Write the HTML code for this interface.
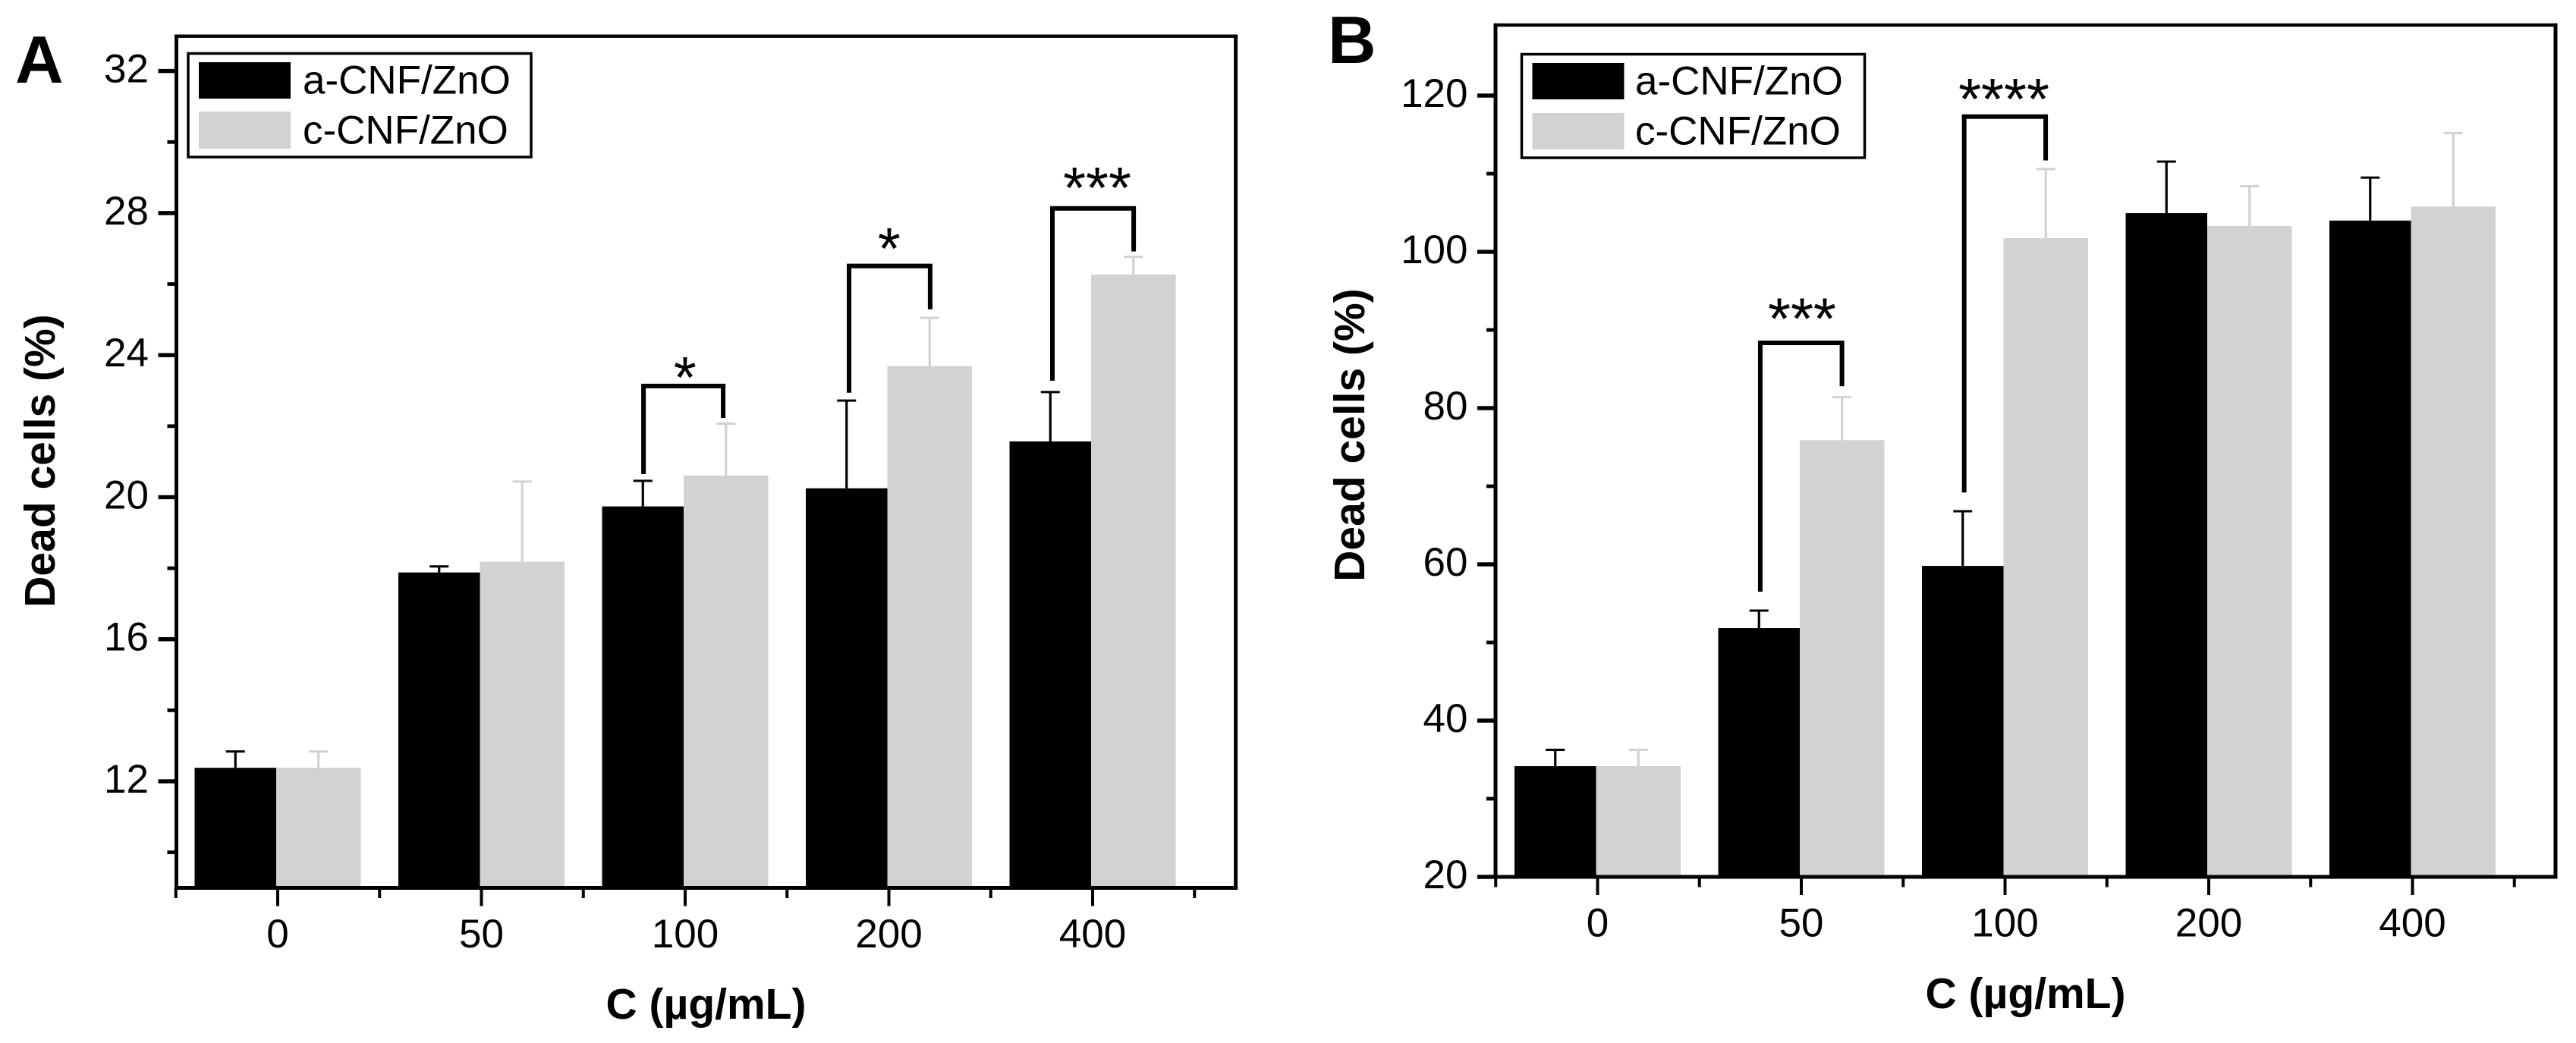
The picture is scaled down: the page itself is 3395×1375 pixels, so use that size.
<!DOCTYPE html>
<html lang="en">
<head>
<meta charset="utf-8">
<title>Dead cells vs concentration</title>
<style>
html,body{margin:0;padding:0;background:#fff;width:3395px;height:1375px;overflow:hidden}
svg{display:block}
text{font-family:"Liberation Sans",Arial,sans-serif;fill:#000}
.tick{font-size:53px}
.title{font-size:57px;font-weight:bold}
.panel{font-size:88px;font-weight:bold}
.legend{font-size:53px}
.star{font-size:77px;text-anchor:middle}
</style>
</head>
<body>
<svg id="figure" xmlns="http://www.w3.org/2000/svg" width="3395" height="1375" viewBox="0 0 3395 1375">
  <rect width="3395" height="1375" fill="#fff"/>
  <g id="panel-a"></g>
  <g id="panel-b"></g>

  <text class="panel" x="20" y="109">A</text>
  <text class="panel" x="1750" y="83">B</text>

  <text class="title" text-anchor="middle" transform="translate(72 607.5) rotate(-90)">Dead cells (%)</text>
  <text class="title" text-anchor="middle" x="930.5" y="1343">C (µg/mL)</text>
  <text class="title" text-anchor="middle" transform="translate(1798 573.5) rotate(-90)">Dead cells (%)</text>
  <text class="title" text-anchor="middle" x="2669.5" y="1329">C (µg/mL)</text>

  <g>
    <rect x="248" y="70.5" width="452" height="136.5" fill="#fff" stroke="#000" stroke-width="3.5"/>
    <rect x="262" y="82" width="121" height="48" fill="#000"/>
    <text class="legend" x="399" y="123.5">a-CNF/ZnO</text>
    <rect x="262" y="147" width="121" height="49" fill="#d2d2d2"/>
    <text class="legend" x="399" y="189.5">c-CNF/ZnO</text>
  </g>
  <g>
    <rect x="2005.5" y="71.5" width="452" height="136.5" fill="#fff" stroke="#000" stroke-width="3.5"/>
    <rect x="2019.5" y="83" width="121" height="48" fill="#000"/>
    <text class="legend" x="2155" y="124.5">a-CNF/ZnO</text>
    <rect x="2019.5" y="149" width="121" height="48" fill="#d2d2d2"/>
    <text class="legend" x="2155" y="190.5">c-CNF/ZnO</text>
  </g>
</svg>

<script>
// Shared category labels
const categories = ['0', '50', '100', '200', '400'];

// Panel A data (% dead cells)
const aBlack = [12.38, 17.88, 19.74, 20.25, 21.57];
const aBlackErr = [0.46, 0.17, 0.72, 2.47, 1.39];
const aGray = [12.38, 18.18, 20.61, 23.69, 26.27];
const aGrayErr = [0.46, 2.26, 1.46, 1.36, 0.50];
const aMajorTicks = [12, 16, 20, 24, 28, 32];
const aMinorTicks = [10, 14, 18, 22, 26, 30];
const aBracketLeft = [1.803, 2.812, 3.810];
const aBracketRight = [2.194, 3.210, 4.209];
const aBracketTop = [23.13, 26.51, 28.13];
const aBracketLeftEnd = [20.65, 22.94, 23.28];
const aBracketRightEnd = [22.23, 25.29, 26.92];
const aStarLabels = ['*', '*', '***'];
const aStarAt = [2.007, 3.009, 4.03];
const aStarLevel = [23.38, 27.02, 28.72];

// Panel B data (% dead cells)
const bBlack = [34.17, 51.84, 59.8, 104.95, 104.0];
const bBlackErr = [2.09, 2.24, 7.0, 6.6, 5.5];
const bGray = [34.17, 75.9, 101.75, 103.3, 105.8];
const bGrayErr = [2.09, 5.5, 8.85, 5.1, 9.4];
const bMajorTicks = [20, 40, 60, 80, 100, 120];
const bMinorTicks = [30, 50, 70, 90, 110];
const bBracketLeft = [0.806, 1.807];
const bBracketRight = [1.207, 2.207];
const bBracketTop = [88.35, 117.3];
const bBracketLeftEnd = [56.5, 69.2];
const bBracketRightEnd = [82.8, 111.7];
const bStarLabels = ['***', '****'];
const bStarAt = [1.011, 2.002];
const bStarLevel = [91.5, 119.6];

const SVG_NS = 'http://www.w3.org/2000/svg';
const GRAY = '#d2d2d2';

function make(parent, tag, props) {
  const node = document.createElementNS(SVG_NS, tag);
  for (const key in props) {
    node.setAttribute(key, props[key]);
  }
  parent.appendChild(node);
  return node;
}

function drawPanel(cfg) {
  const root = document.getElementById(cfg.rootId);
  const yScale = function (v) { return cfg.y0 - (v - cfg.v0) * cfg.pxPerUnit; };
  const xScale = function (p) { return cfg.x0 + p * 268.5; };
  const tickX = function (p) { return xScale(p) + 2; };

  // Bars and error bars: black series first so grey overlaps it
  const seriesList = [
    { key: 'a-cnf-zno', values: cfg.black, errs: cfg.blackErr, color: '#000', from: -107.5, to: 0 },
    { key: 'c-cnf-zno', values: cfg.gray, errs: cfg.grayErr, color: GRAY, from: 0, to: 111.5 }
  ];
  seriesList.forEach(function (s) {
    s.values.forEach(function (value, i) {
      const left = xScale(i) + s.from;
      const right = xScale(i) + s.to;
      const mid = (left + right) / 2;
      const top = yScale(value);
      const capY = yScale(value + s.errs[i]);

      const stem = make(root, 'rect', { x: mid - 1.6, y: capY, width: 3.2, height: top - capY, fill: s.color });
      
      

      const cap = make(root, 'rect', { x: mid - 12.5, y: capY - 1.5, width: 25, height: 3, fill: s.color });
      
      

      const bar = make(root, 'rect', { x: left, y: top, width: right - left, height: cfg.bottom - top, fill: s.color });
      
      
    });
  });

  // Significance brackets
  cfg.bracketTop.forEach(function (topValue, i) {
    const x1 = xScale(cfg.bracketLeft[i]);
    const x2 = xScale(cfg.bracketRight[i]);
    const points = [
      [x1, yScale(cfg.bracketLeftEnd[i])],
      [x1, yScale(topValue)],
      [x2, yScale(topValue)],
      [x2, yScale(cfg.bracketRightEnd[i])]
    ].map(function (pt) { return pt.join(','); }).join(' ');
    const bracket = make(root, 'polyline', { points: points, fill: 'none', stroke: '#000', 'stroke-width': 6 });
    
    
  });
  cfg.starLabels.forEach(function (label, i) {
    const star = make(root, 'text', { class: 'star', x: xScale(cfg.starAt[i]), y: yScale(cfg.starLevel[i]) + 27 });
    star.textContent = label;
    
    
  });

  // Axis frame
  const frameLeft = make(root, 'rect', { x: cfg.left - 2.5, y: cfg.top - 2.2, width: 5, height: cfg.bottom - cfg.top + 4.7, fill: '#000' });
  
  
  const frameRight = make(root, 'rect', { x: cfg.right - 2.5, y: cfg.top - 2.2, width: 5, height: cfg.bottom - cfg.top + 4.7, fill: '#000' });
  
  
  const frameTop = make(root, 'rect', { x: cfg.left - 2.5, y: cfg.top - 2.2, width: cfg.right - cfg.left + 5, height: 4.4, fill: '#000' });
  
  
  const frameBottom = make(root, 'rect', { x: cfg.left - 2.5, y: cfg.bottom - 2.5, width: cfg.right - cfg.left + 5, height: 5, fill: '#000' });
  
  

  // Y ticks
  cfg.majorTicks.forEach(function (v) {
    const y = yScale(v);
    const tick = make(root, 'rect', { x: cfg.left - 24, y: y - 2.7, width: 24, height: 5.4, fill: '#000' });
    
    
    const label = make(root, 'text', { class: 'tick', x: cfg.left - 36.5, y: y + 15, 'text-anchor': 'end' });
    label.textContent = String(v);
    
    
  });
  cfg.minorTicks.forEach(function (v) {
    const tick = make(root, 'rect', { x: cfg.left - 12, y: yScale(v) - 2.4, width: 12, height: 4.8, fill: '#000' });
    
    
  });

  // X ticks
  categories.forEach(function (name, i) {
    const x = tickX(i);
    const tick = make(root, 'rect', { x: x - 2, y: cfg.bottom, width: 4, height: 24, fill: '#000' });
    
    
    const label = make(root, 'text', { class: 'tick', x: x, y: cfg.bottom + 78.5, 'text-anchor': 'middle' });
    label.textContent = name;
    
    
  });
  for (let p = -0.5; p < categories.length; p += 1) {
    const minor = make(root, 'rect', { x: tickX(p) - 2, y: cfg.bottom, width: 4, height: 13.5, fill: '#000' });
    
    
  }
}

drawPanel({
  rootId: 'panel-a', x0: 364, y0: 1030, v0: 12, pxPerUnit: 46.82,
  left: 232.5, right: 1628.6, top: 47.7, bottom: 1170.5,
  black: aBlack, blackErr: aBlackErr, gray: aGray, grayErr: aGrayErr,
  majorTicks: aMajorTicks, minorTicks: aMinorTicks,
  bracketLeft: aBracketLeft, bracketRight: aBracketRight, bracketTop: aBracketTop,
  bracketLeftEnd: aBracketLeftEnd, bracketRightEnd: aBracketRightEnd,
  starLabels: aStarLabels, starAt: aStarAt, starLevel: aStarLevel
});

drawPanel({
  rootId: 'panel-b', x0: 2103.5, y0: 1156, v0: 20, pxPerUnit: 10.3,
  left: 1971, right: 3368, top: 33, bottom: 1156,
  black: bBlack, blackErr: bBlackErr, gray: bGray, grayErr: bGrayErr,
  majorTicks: bMajorTicks, minorTicks: bMinorTicks,
  bracketLeft: bBracketLeft, bracketRight: bBracketRight, bracketTop: bBracketTop,
  bracketLeftEnd: bBracketLeftEnd, bracketRightEnd: bBracketRightEnd,
  starLabels: bStarLabels, starAt: bStarAt, starLevel: bStarLevel
});
</script>
</body>
</html>
